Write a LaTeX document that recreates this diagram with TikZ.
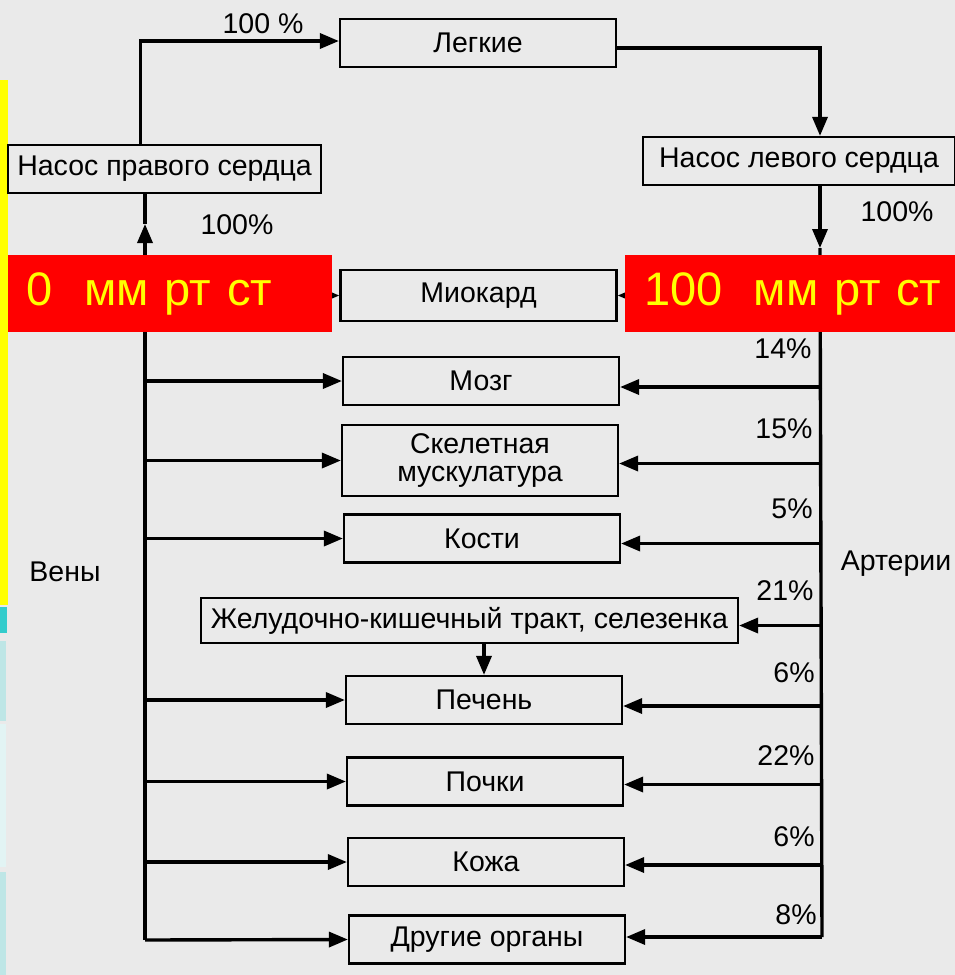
\documentclass[tikz,border=0pt]{standalone}
\usepackage{fontspec}
\setmainfont{Liberation Sans}
\usetikzlibrary{arrows.meta, positioning}

\definecolor{paper}{RGB}{234,234,234}
\definecolor{press}{RGB}{255,0,0}
\definecolor{presstext}{RGB}{255,255,0}
\definecolor{slideA}{RGB}{255,255,0}
\definecolor{slideB}{RGB}{51,204,204}
\definecolor{slideC}{RGB}{190,230,230}
\definecolor{slideD}{RGB}{226,244,244}

\tikzset{
  organ/.style={draw, line width=2.2pt, minimum width=276pt, minimum height=48pt, inner sep=2pt, align=center, font=\fontsize{28.5}{31}\selectfont},
  blood/.style={line width=3.4pt, -{Triangle[length=19pt,width=15pt]}},
  vessel/.style={line width=3.4pt},
  pct/.style={font=\fontsize{28.5}{31}\selectfont},
  mmhg/.style={fill=press, text=presstext, minimum height=77pt, inner xsep=19pt, align=left, font=\fontsize{47}{52}\selectfont}
}

\begin{document}
\begin{tikzpicture}[x=1pt, y=-1pt]
\useasboundingbox (0,0) rectangle (955,975);
\fill[paper] (0,0) rectangle (955,975);

% slide edge
\fill[slideA] (0,80) rectangle (8,605);
\fill[slideB] (0,607) rectangle (7,633);
\fill[slideC] (0,641) rectangle (6,721);
\fill[slideD] (0,724) rectangle (6,867);
\fill[slideC] (0,872) rectangle (6,975);

\node[organ](lungs) at (478,43) {Легкие};
\node[organ, minimum width=313pt](rheart) at (164.5,169) {Насос правого сердца};
\node[organ, minimum width=312pt](lheart) at (799,161) {Насос левого сердца};

\node[organ, minimum height=51pt](myo) at (478.5,295.5) {Миокард};
\node[organ](brain) at (481,381) {Мозг};
\node[organ, minimum height=71pt](muscle) at (480,460.5) {Скелетная\\[-3pt]мускулатура};
\node[organ](bone) at (482,538.5) {Кости};
\node[organ, minimum width=537pt, minimum height=45pt](gut) at (469.5,620.5) {Желудочно-кишечный тракт, селезенка};
\node[organ](liver) at (484,700) {Печень};
\node[organ](kidney) at (485,781.5) {Почки};
\node[organ](skin) at (486,862) {Кожа};
\node[organ](other) at (487,939.5) {Другие органы};

\node[pct](veins) at (65,572) {Вены};
\node[pct](arteries) at (896,564) {Артерии};

\coordinate (v0) at (145,940);
\coordinate (v1) at (145,224);
\coordinate (a0) at (822,937);
\coordinate (a1) at (820,248);

% pulmonary loop
\draw[blood] ([xshift=-24pt]rheart.north) |- ([yshift=2pt]lungs.west);
\draw[blood] ([yshift=-5pt]lungs.east) -| ([xshift=21pt]lheart.north);
\draw[blood] ([xshift=21pt]lheart.south) -- (a1);
\draw[vessel] (a1) -- (a0);
\draw[blood] (v0) -- (v1);
\draw[vessel] (v1) -- (v1 |- rheart.south);

\node[pct](t100a) at (263,24) {100 \%};
\node[pct](t100b) at (237,225) {100\%};
\node[pct](t100c) at (897,212) {100\%};

% veins
\draw[blood] (v0 |- myo.west) -- (myo.west);
\draw[blood] (v0 |- brain.west) -- (brain.west);
\draw[blood] (v0 |- muscle.west) -- (muscle.west);
\draw[blood] (v0 |- bone.west) -- (bone.west);
\draw[blood] (v0 |- liver.west) -- (liver.west);
\draw[blood] (v0 |- kidney.west) -- (kidney.west);
\draw[blood] (v0 |- skin.west) -- (skin.west);
\draw[blood] (v0) -- (other.west);

% arteries
\draw[blood] (a0 |- myo.east) -- (myo.east);
\draw[blood] ([yshift=-6pt]a0 |- brain.east) -- ([yshift=-6pt]brain.east);
\draw[blood] ([yshift=-3pt]a0 |- muscle.east) -- ([yshift=-3pt]muscle.east);
\draw[blood] ([yshift=-5pt]a0 |- bone.east) -- ([yshift=-5pt]bone.east);
\draw[blood] ([yshift=-5pt]a0 |- gut.east) -- ([yshift=-5pt]gut.east);
\draw[blood] ([yshift=-6pt]a0 |- liver.east) -- ([yshift=-6pt]liver.east);
\draw[blood] ([yshift=-3pt]a0 |- kidney.east) -- ([yshift=-3pt]kidney.east);
\draw[blood] ([yshift=-3pt]a0 |- skin.east) -- ([yshift=-3pt]skin.east);
\draw[blood] (a0) -- (a0 -| other.east);
\draw[blood] (liver.north |- gut.south) -- (liver.north);

\node[pct](p14) at (783,349) {14\%};
\node[pct](p15) at (784,429) {15\%};
\node[pct](p5) at (792,509) {5\%};
\node[pct](p21) at (785,591) {21\%};
\node[pct](p6a) at (794,673) {6\%};
\node[pct](p22) at (786,756) {22\%};
\node[pct](p6b) at (794,837) {6\%};
\node[pct](p8) at (796,915) {8\%};

% pressure labels
\node[mmhg, text width=286pt](mm0) at (170,293.5) {\mbox{0~~мм рт ст}};
\node[mmhg, text width=292pt](mm100) at (790,293.5) {\mbox{100~~мм рт ст}};
\end{tikzpicture}
\end{document}
